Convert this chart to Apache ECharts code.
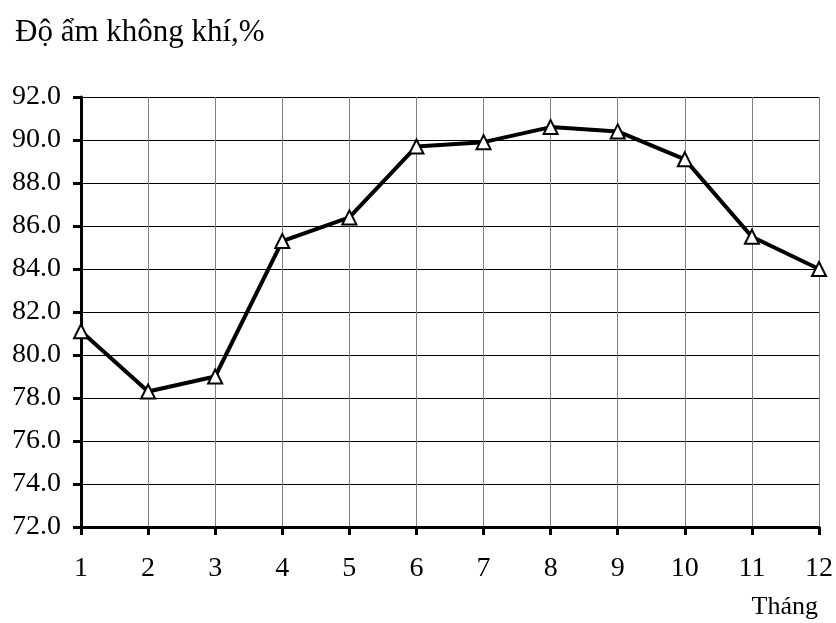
<!DOCTYPE html>
<html>
<head>
<meta charset="utf-8">
<script src="https://cdn.jsdelivr.net/npm/echarts@6/dist/echarts.min.js"></script>
<style>
html,body{margin:0;padding:0;background:#fff;}
#chart{width:836px;height:623px;}
</style>
</head>
<body>
<div id="chart"></div>
<script>
var months = ['1','2','3','4','5','6','7','8','9','10','11','12'];
var humidity = [81.1, 78.3, 79.0, 85.3, 86.4, 89.7, 89.9, 90.6, 90.4, 89.1, 85.5, 84.0];
var yMin = 72, yMax = 92, yStep = 2;
var titleText = 'Độ ẩm không khí,%';
var xName = 'Tháng';

var FONT = '"Liberation Serif", "DejaVu Serif", serif';
var chart = echarts.init(document.getElementById('chart'), null, {renderer: 'canvas'});
chart.setOption({
  backgroundColor: '#ffffff',
  animation: false,
  title: {
    text: titleText,
    left: 10,
    top: 12,
    textStyle: {fontFamily: FONT, fontSize: 31, fontWeight: 'normal', color: '#000'}
  },
  graphic: [{
    type: 'text',
    right: 18,
    top: 594,
    style: {text: xName, font: '26px ' + FONT, fill: '#000'}
  }],
  grid: {left: 81, right: 14, top: 97, bottom: 96, containLabel: false},
  xAxis: {
    type: 'category',
    data: months,
    boundaryGap: false,
    axisLine: {lineStyle: {color: '#000', width: 3}},
    axisTick: {show: true, length: 8, alignWithLabel: true, lineStyle: {color: '#000', width: 3}},
    axisLabel: {margin: 28, fontFamily: FONT, fontSize: 28, color: '#000'},
    splitLine: {show: true, lineStyle: {color: '#808080', width: 1}}
  },
  yAxis: {
    type: 'value',
    min: yMin,
    max: yMax,
    interval: yStep,
    axisLine: {show: true, lineStyle: {color: '#000', width: 3}},
    axisTick: {show: true, length: 8, lineStyle: {color: '#000', width: 3}},
    axisLabel: {margin: 20, fontFamily: FONT, fontSize: 28, color: '#000',
      formatter: function (v) { return v.toFixed(1); }},
    splitLine: {show: true, lineStyle: {color: '#000', width: 1}}
  },
  series: [{
    type: 'line',
    data: humidity,
    symbol: 'triangle',
    symbolSize: 14,
    lineStyle: {color: '#000', width: 4},
    itemStyle: {color: '#fff', borderColor: '#000', borderWidth: 2},
    z: 5
  }]
});
</script>
</body>
</html>
